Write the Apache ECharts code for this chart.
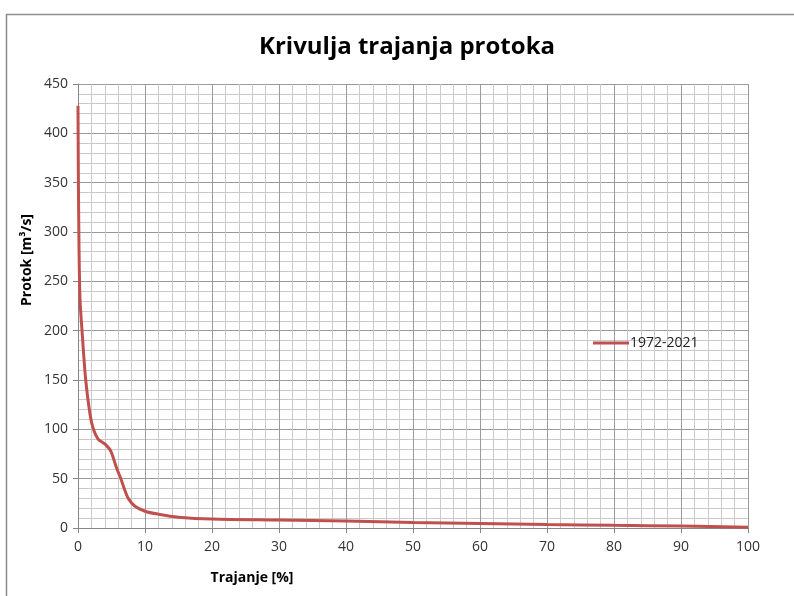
<!DOCTYPE html>
<html>
<head>
<meta charset="utf-8">
<script src="https://cdn.jsdelivr.net/npm/echarts@6/dist/echarts.min.js"></script>
<style>
  html, body { margin: 0; padding: 0; background: #fff; }
  #chart { width: 794px; height: 596px; }
</style>
</head>
<body>
<div id="chart"></div>
<script>
// Flow duration curve, 1972-2021
const seriesName = '1972-2021';
const duration = [0, 0.05, 0.15, 0.3, 0.6, 1.15, 1.8, 2.3, 3.0, 3.6, 4.2, 4.9, 5.8, 6.4, 6.9, 7.5, 8.5, 10, 12, 15, 20, 30, 40, 50, 60, 70, 80, 90, 100];
const flow = [428, 360, 285, 232, 200, 150, 115, 100, 90, 87, 84, 78, 60, 50, 40, 30, 22, 17, 14, 11, 9, 8, 7, 5.5, 4.5, 3.5, 2.7, 2, 0.7];

const xTicks = { min: 0, max: 100, interval: 10 };
const yTicks = { min: 0, max: 450, interval: 50 };

const font = '"Open Sans", "Liberation Sans", sans-serif';
const chart = echarts.init(document.getElementById('chart'), null, { renderer: 'canvas' });

chart.setOption({
  animation: false,
  backgroundColor: '#fff',
  grid: { left: 78, right: 46, top: 84, bottom: 68, containLabel: false },
  xAxis: {
    type: 'value',
    min: xTicks.min, max: xTicks.max, interval: xTicks.interval,
    axisLine: { show: true, lineStyle: { color: '#868686', width: 1 } },
    axisTick: { show: true, length: 5, lineStyle: { color: '#868686' } },
    axisLabel: { color: '#333', fontSize: 14, fontFamily: font, margin: 12 },
    splitLine: { show: true, lineStyle: { color: '#9a9a9a', width: 1 } },
    minorTick: { show: false, splitNumber: 5 },
    minorSplitLine: { show: true, lineStyle: { color: '#c9c9c9', width: 1 } }
  },
  yAxis: {
    type: 'value',
    min: yTicks.min, max: yTicks.max, interval: yTicks.interval,
    axisLine: { show: true, lineStyle: { color: '#868686', width: 1 } },
    axisTick: { show: true, length: 5, lineStyle: { color: '#868686' } },
    axisLabel: { color: '#333', fontSize: 14, fontFamily: font, margin: 10 },
    splitLine: { show: true, lineStyle: { color: '#9a9a9a', width: 1 } },
    minorTick: { show: false, splitNumber: 5 },
    minorSplitLine: { show: true, lineStyle: { color: '#c9c9c9', width: 1 } }
  },
  legend: {
    show: true,
    left: 588, top: 331,
    itemWidth: 36, itemHeight: 3, itemGap: 2,
    icon: 'rect',
    textStyle: { color: '#222', fontSize: 14, fontFamily: font, padding: [0, 0, 0, -4] },
    data: [seriesName]
  },
  series: [{
    name: seriesName,
    type: 'line',
    data: duration.map((d, i) => [d, flow[i]]),
    smooth: 0.3,
    showSymbol: false,
    lineStyle: { color: '#c0504d', width: 3 },
    itemStyle: { color: '#c0504d' }
  }],
  graphic: [
    {
      type: 'rect', silent: true,
      shape: { x: 6.5, y: 14.5, width: 800, height: 600 },
      style: { fill: 'none', stroke: '#8c8c8c', lineWidth: 1.5 }
    },
    {
      type: 'text', x: 407, y: 47,
      style: { text: 'Krivulja trajanja protoka', fill: '#000', font: 'bold 24px ' + font, textAlign: 'center', textVerticalAlign: 'middle' }
    },
    {
      type: 'text', x: 252, y: 578,
      style: { text: 'Trajanje [%]', fill: '#000', font: 'bold 14px ' + font, textAlign: 'center', textVerticalAlign: 'middle' }
    },
    {
      type: 'text', x: 27, y: 260, rotation: Math.PI / 2,
      style: { text: 'Protok [m³/s]', fill: '#000', font: 'bold 14px ' + font, textAlign: 'center', textVerticalAlign: 'middle' }
    }
  ]
});
</script>
</body>
</html>
